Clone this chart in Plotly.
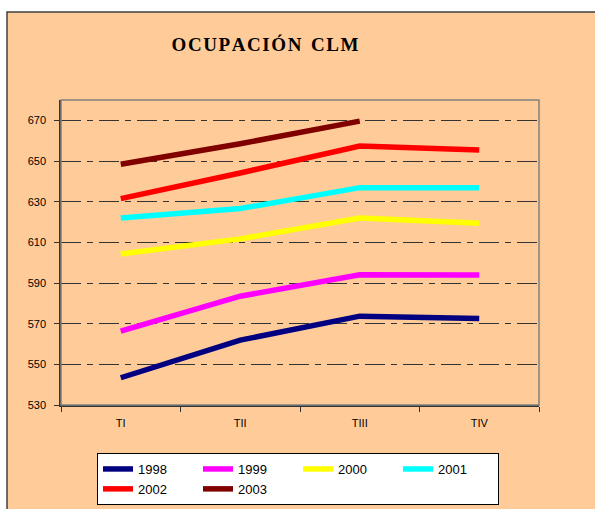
import plotly.graph_objects as go

categories = ["TI", "TII", "TIII", "TIV"]
years = ["1998", "1999", "2000", "2001", "2002", "2003"]
v1998 = [543.4, 561.9, 573.7, 572.6]
v1999 = [566.3, 583.5, 594.0, 593.9]
v2000 = [604.3, 611.7, 622.0, 619.4]
v2001 = [622.0, 626.6, 636.9, 636.9]
v2002 = [631.5, 644.1, 657.4, 655.4]
v2003 = [648.4, 658.5, 669.6, None]
series = [v1998, v1999, v2000, v2001, v2002, v2003]
colors = ["#000080", "#FF00FF", "#FFFF00", "#00FFFF", "#FF0000", "#800000"]
y_ticks = [530, 550, 570, 590, 610, 630, 650, 670]

fig = go.Figure()
for name, vals, col in zip(years, series, colors):
    fig.add_trace(go.Scatter(x=categories, y=vals, mode="lines", name=name,
                             line=dict(color=col, width=5.5)))

W, H = 595, 509
ml, mr, mt, mb = 61, 56, 100, 104
PW, PH = W - ml - mr, H - mt - mb

def px_x(x):
    return (x - ml) / PW

def px_y(y):
    return (H - mb - y) / PH

fig.update_layout(
    width=W, height=H,
    margin=dict(l=ml, r=mr, t=mt, b=mb, autoexpand=False),
    paper_bgcolor="white",
    plot_bgcolor="#99CCFF",
    font=dict(family="Arial, Liberation Sans, sans-serif", color="black", size=11),
    title=dict(text="O\u200aC\u200aU\u200aP\u200aA\u200aC\u200aI\u200aÓ\u200aN\u2002C\u200aL\u200aM",
               x=265 / W, xanchor="center", y=1 - 44 / H, yanchor="middle",
               xref="container", yref="container",
               font=dict(family="Times New Roman, Liberation Serif, serif", size=19, color="black",
                         weight="bold")),
    showlegend=True,
    legend=dict(orientation="h", x=px_x(97), xanchor="left", y=px_y(453), yanchor="top",
                bgcolor="white", bordercolor="black", borderwidth=1,
                font=dict(size=13, family="Arial, Liberation Sans, sans-serif"),
                entrywidth=55, entrywidthmode="pixels", traceorder="normal",
                tracegroupgap=0, itemwidth=30),
    shapes=[
        dict(type="rect", xref="paper", yref="paper", layer="below",
             x0=px_x(7), x1=px_x(W + 10), y0=px_y(H + 10), y1=px_y(12),
             fillcolor="#FFCC99", line=dict(color="#404040", width=1.5)),
        dict(type="rect", xref="paper", yref="paper", layer="above",
             x0=0, x1=1, y0=0, y1=1, line=dict(color="#808080", width=1.5)),
    ],
)

fig.update_xaxes(range=[-0.5, 3.5], showgrid=False, ticks="outside", tickson="boundaries",
                 ticklen=5, tickcolor="#333", showline=True, linecolor="#333", linewidth=1.5,
                 tickfont=dict(size=11), ticklabelstandoff=7, fixedrange=True)
fig.update_yaxes(range=[530, 680], tickvals=y_ticks, showgrid=True, gridcolor="#333333",
                 gridwidth=1, griddash="20px,6px,6px,6px", ticks="outside", ticklen=5,
                 tickcolor="#333", showline=True, linecolor="#333", linewidth=1.5,
                 zeroline=False, tickfont=dict(size=11), ticklabelstandoff=6, fixedrange=True)

fig.write_html("out.html", config={"displayModeBar": False},
               post_script="document.body.style.margin='0';")
